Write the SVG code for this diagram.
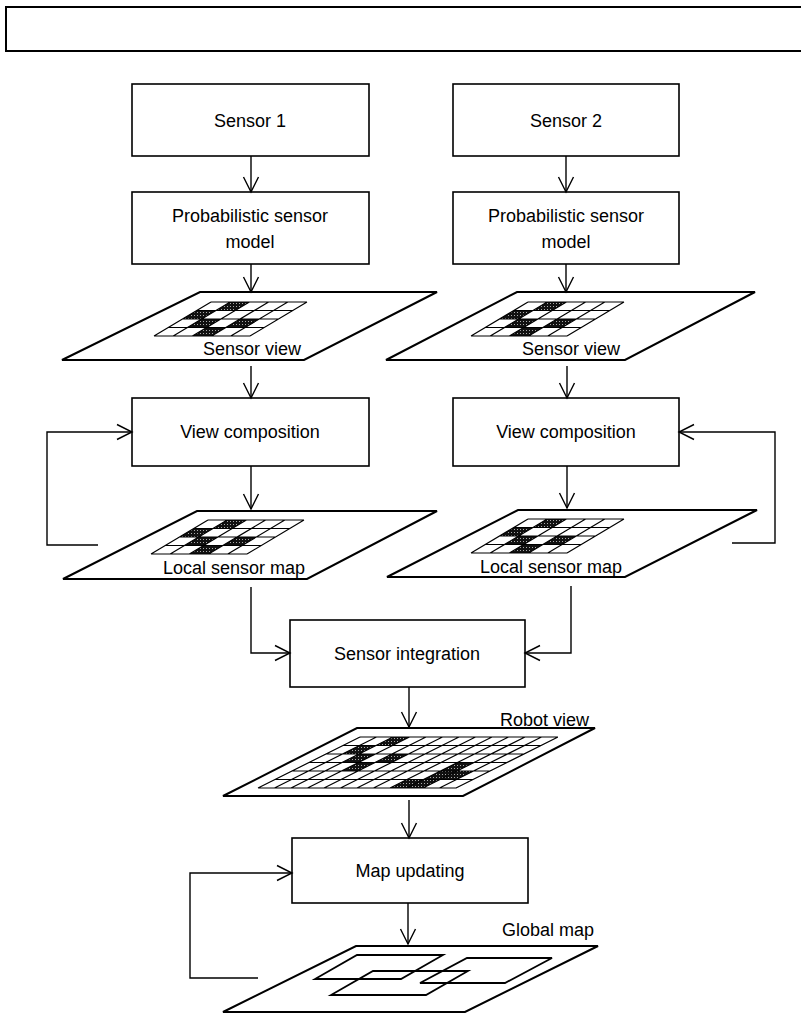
<svg xmlns="http://www.w3.org/2000/svg" xmlns:xlink="http://www.w3.org/1999/xlink" width="801" height="1014" viewBox="0 0 801 1014">
<style>
.box{fill:#fff;stroke:#000;stroke-width:1.6}
.plane{fill:#fff;stroke:#000;stroke-width:2;stroke-linejoin:miter}
.grid{fill:none;stroke:#000;stroke-width:1.2}
.inner{fill:none;stroke:#000;stroke-width:1.8}
.dark{fill:url(#stip);stroke:none}
.con{fill:none;stroke:#000;stroke-width:1.4}
.t{font-family:"Liberation Sans",Arial,Helvetica,sans-serif;font-size:18px;fill:#000}
.c{text-anchor:middle}
.e{text-anchor:end}
</style>
<defs>
<pattern id="stip" width="3" height="3" patternUnits="userSpaceOnUse">
<rect width="3" height="3" fill="#111"/>
<rect x="1" y="1" width="1" height="1" fill="#aaa"/>
</pattern>
<marker id="ah" viewBox="0 0 15 16" refX="15" refY="8" markerWidth="15" markerHeight="16" markerUnits="userSpaceOnUse" orient="auto" overflow="visible">
<path d="M0,0.5 L15,8 L0,15.5" fill="none" stroke="#000" stroke-width="1.4"/>
</marker>
<g id="sgrid">
<polygon class="dark" points="19.2,0 38.4,0 24.15,8.5 4.95,8.5"/>
<polygon class="dark" points="-14.25,8.5 4.95,8.5 -9.3,17 -28.5,17"/>
<polygon class="dark" points="-9.3,17 9.9,17 -4.35,25.5 -23.55,25.5"/>
<polygon class="dark" points="-4.35,25.5 14.85,25.5 0.6,34 -18.6,34"/>
<polygon class="dark" points="29.1,17 48.3,17 34.05,25.5 14.85,25.5"/>
<path class="grid" d="M0,0 H96 M-14.25,8.5 H81.75 M-28.5,17 H67.5 M-42.75,25.5 H53.25 M-57,34 H39 M0,0 L-57,34 M19.2,0 L-37.8,34 M38.4,0 L-18.6,34 M57.6,0 L0.6,34 M76.8,0 L19.8,34 M96,0 L39,34"/>
</g>
</defs>
<rect width="801" height="1014" fill="#fff"/>

<g id="title-bar">
<rect x="6" y="7" width="800" height="44" fill="none" stroke="#000" stroke-width="2"/>
</g>

<g id="sensor1">
<rect class="box" x="132" y="84" width="237" height="72"/>
<text class="t c" x="250" y="127">Sensor 1</text>
</g>
<g id="sensor2">
<rect class="box" x="453" y="84" width="226" height="72"/>
<text class="t c" x="566" y="127">Sensor 2</text>
</g>

<g id="model1">
<rect class="box" x="132" y="192" width="237" height="72"/>
<text class="t c" x="250" y="222">Probabilistic sensor</text>
<text class="t c" x="250" y="248">model</text>
</g>
<g id="model2">
<rect class="box" x="453" y="192" width="226" height="72"/>
<text class="t c" x="566" y="222">Probabilistic sensor</text>
<text class="t c" x="566" y="248">model</text>
</g>

<g id="sensorview1">
<polygon class="plane" points="200,292 437,292 304,360 62,360"/>
<use xlink:href="#sgrid" transform="translate(211,302)"/>
<text class="t e" x="301" y="355">Sensor view</text>
</g>
<g id="sensorview2">
<polygon class="plane" points="517,292 755,292 625,360 386,360"/>
<use xlink:href="#sgrid" transform="translate(528,302)"/>
<text class="t e" x="620" y="355">Sensor view</text>
</g>

<g id="viewcomp1">
<rect class="box" x="132" y="398" width="237" height="68"/>
<text class="t c" x="250" y="438">View composition</text>
</g>
<g id="viewcomp2">
<rect class="box" x="453" y="398" width="226" height="68"/>
<text class="t c" x="566" y="438">View composition</text>
</g>

<g id="localmap1">
<polygon class="plane" points="197,511 437,511 307,579 63,579"/>
<use xlink:href="#sgrid" transform="translate(208,520)"/>
<text class="t e" x="305" y="574">Local sensor map</text>
</g>
<g id="localmap2">
<polygon class="plane" points="518,510 757,510 625,577 387,577"/>
<use xlink:href="#sgrid" transform="translate(528,519)"/>
<text class="t e" x="622" y="573">Local sensor map</text>
</g>

<g id="integration">
<rect class="box" x="290" y="620" width="235" height="67"/>
<text class="t c" x="407" y="660">Sensor integration</text>
</g>

<g id="robotview">
<polygon class="plane" points="357,728 595,728 463,796 223,796"/>
<g transform="translate(360,737)">
<polygon class="dark" points="33,0 49.5,0 32.5,8.5 16,8.5"/>
<polygon class="dark" points="-0.5,8.5 16,8.5 -1,17 -17.5,17"/>
<polygon class="dark" points="-1,17 15.5,17 -1.5,25.5 -18,25.5"/>
<polygon class="dark" points="-1.5,25.5 15,25.5 -2,34 -18.5,34"/>
<polygon class="dark" points="32,17 48.5,17 31.5,25.5 15,25.5"/>
<polygon class="dark" points="97.5,25.5 114,25.5 97,34 80.5,34"/>
<polygon class="dark" points="80.5,34 97,34 80,42.5 63.5,42.5"/>
<polygon class="dark" points="97,34 113.5,34 96.5,42.5 80,42.5"/>
<polygon class="dark" points="47,42.5 63.5,42.5 46.5,51 30,51"/>
<polygon class="dark" points="63.5,42.5 80,42.5 63,51 46.5,51"/>
<path class="grid" d="M0,0 H198 M-17,8.5 H181 M-34,17 H164 M-51,25.5 H147 M-68,34 H130 M-85,42.5 H113 M-102,51 H96 M0,0 L-102,51 M16.5,0 L-85.5,51 M33,0 L-69,51 M49.5,0 L-52.5,51 M66,0 L-36,51 M82.5,0 L-19.5,51 M99,0 L-3,51 M115.5,0 L13.5,51 M132,0 L30,51 M148.5,0 L46.5,51 M165,0 L63,51 M181.5,0 L79.5,51 M198,0 L96,51"/>
</g>
<text class="t e" x="589" y="726">Robot view</text>
</g>

<g id="mapupdating">
<rect class="box" x="292" y="838" width="236" height="65"/>
<text class="t c" x="410" y="877">Map updating</text>
</g>

<g id="globalmap">
<polygon class="plane" points="356,946 598,946 465,1012 223,1012"/>
<polygon class="inner" points="357,955 443,955 401,979 315,979"/>
<polygon class="inner" points="373,971 468,971 426,995 331,995"/>
<polygon class="inner" points="467,958 552,958 505,983 420,983"/>
<text class="t e" x="594" y="936">Global map</text>
</g>

<g id="connectors">
<line class="con" x1="251" y1="156" x2="251" y2="192" marker-end="url(#ah)"/>
<line class="con" x1="566" y1="156" x2="566" y2="192" marker-end="url(#ah)"/>
<line class="con" x1="251" y1="264" x2="251" y2="292" marker-end="url(#ah)"/>
<line class="con" x1="566" y1="264" x2="566" y2="292" marker-end="url(#ah)"/>
<line class="con" x1="251" y1="366" x2="251" y2="398" marker-end="url(#ah)"/>
<line class="con" x1="567" y1="366" x2="567" y2="398" marker-end="url(#ah)"/>
<line class="con" x1="251" y1="466" x2="251" y2="509" marker-end="url(#ah)"/>
<line class="con" x1="567" y1="466" x2="567" y2="508" marker-end="url(#ah)"/>
<polyline class="con" points="98,545 47,545 47,432 132,432" marker-end="url(#ah)"/>
<polyline class="con" points="732,543 775,543 775,432 679,432" marker-end="url(#ah)"/>
<polyline class="con" points="251,587 251,653 290,653" marker-end="url(#ah)"/>
<polyline class="con" points="571,586 571,653 525,653" marker-end="url(#ah)"/>
<line class="con" x1="409" y1="687" x2="409" y2="727" marker-end="url(#ah)"/>
<line class="con" x1="409" y1="800" x2="409" y2="838" marker-end="url(#ah)"/>
<polyline class="con" points="258,978 190,978 190,873 292,873" marker-end="url(#ah)"/>
<line class="con" x1="408" y1="903" x2="408" y2="944" marker-end="url(#ah)"/>
</g>
</svg>
